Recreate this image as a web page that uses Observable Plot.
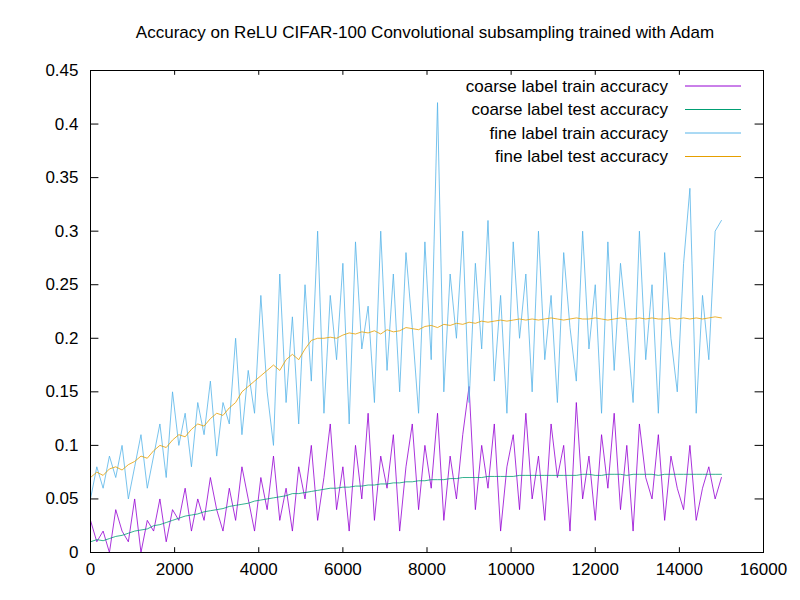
<!DOCTYPE html>
<html><head><meta charset="utf-8">
<script src="https://cdn.jsdelivr.net/npm/d3@7"></script>
<script src="https://cdn.jsdelivr.net/npm/@observablehq/plot@0.6"></script>
<style>
body{margin:0;background:#fff;font-family:"Liberation Sans",Arial,sans-serif;}
#title{height:50px;line-height:66px;text-align:center;font-size:17px;padding-left:50px;}
</style></head><body>
<div id="title">Accuracy on ReLU CIFAR-100 Convolutional subsampling trained with Adam</div>
<div id="chart"></div>
<script>
// values sampled every 150 iterations, 0..15000
const fineTest = [0.07,0.075,0.072,0.078,0.08,0.077,0.082,0.085,0.09,0.088,0.095,0.1,0.098,0.105,0.11,0.108,0.115,0.12,0.118,0.125,0.13,0.128,0.135,0.14,0.15,0.155,0.16,0.165,0.17,0.175,0.17,0.18,0.185,0.18,0.19,0.198,0.2,0.2,0.201,0.2,0.203,0.205,0.204,0.206,0.205,0.207,0.204,0.208,0.206,0.207,0.21,0.209,0.208,0.211,0.212,0.21,0.213,0.212,0.214,0.213,0.215,0.214,0.216,0.215,0.216,0.217,0.216,0.217,0.218,0.217,0.218,0.217,0.218,0.219,0.218,0.217,0.218,0.219,0.218,0.218,0.219,0.218,0.217,0.218,0.219,0.218,0.218,0.219,0.218,0.219,0.218,0.218,0.219,0.218,0.219,0.218,0.219,0.218,0.219,0.22,0.219];
const coarseTest = [0.01,0.012,0.011,0.013,0.015,0.016,0.018,0.02,0.021,0.022,0.025,0.026,0.028,0.03,0.032,0.034,0.035,0.036,0.038,0.039,0.04,0.041,0.043,0.044,0.045,0.046,0.048,0.049,0.05,0.051,0.052,0.053,0.055,0.055,0.056,0.057,0.058,0.059,0.06,0.06,0.061,0.061,0.062,0.062,0.063,0.063,0.064,0.064,0.065,0.065,0.066,0.066,0.067,0.067,0.068,0.068,0.068,0.069,0.069,0.07,0.07,0.07,0.07,0.071,0.071,0.071,0.071,0.071,0.072,0.072,0.072,0.072,0.072,0.072,0.072,0.072,0.072,0.072,0.073,0.073,0.072,0.072,0.073,0.073,0.073,0.072,0.073,0.073,0.073,0.073,0.072,0.073,0.073,0.073,0.073,0.073,0.073,0.073,0.073,0.073,0.073];
const fineTrain = [0.05,0.08,0.06,0.09,0.07,0.1,0.05,0.08,0.11,0.06,0.09,0.12,0.07,0.15,0.1,0.13,0.08,0.14,0.11,0.16,0.09,0.14,0.12,0.2,0.11,0.17,0.13,0.24,0.15,0.1,0.26,0.14,0.22,0.12,0.25,0.16,0.3,0.13,0.24,0.18,0.27,0.12,0.29,0.19,0.23,0.14,0.3,0.17,0.26,0.15,0.28,0.21,0.13,0.29,0.18,0.42,0.15,0.26,0.2,0.3,0.14,0.27,0.19,0.31,0.16,0.24,0.13,0.29,0.2,0.26,0.15,0.3,0.18,0.24,0.14,0.28,0.21,0.16,0.3,0.19,0.25,0.13,0.29,0.17,0.27,0.21,0.14,0.3,0.18,0.25,0.13,0.28,0.2,0.15,0.27,0.34,0.13,0.24,0.18,0.3,0.31];
const coarseTrain = [0.03,0.01,0.02,0.0,0.04,0.02,0.01,0.05,0.0,0.03,0.02,0.05,0.01,0.04,0.03,0.06,0.02,0.05,0.03,0.07,0.04,0.02,0.06,0.03,0.08,0.05,0.02,0.07,0.04,0.09,0.03,0.06,0.02,0.08,0.05,0.1,0.03,0.07,0.12,0.04,0.08,0.02,0.1,0.05,0.13,0.03,0.09,0.06,0.11,0.02,0.08,0.12,0.04,0.1,0.06,0.13,0.03,0.09,0.05,0.11,0.155,0.04,0.1,0.06,0.12,0.02,0.08,0.11,0.04,0.13,0.05,0.09,0.03,0.12,0.07,0.1,0.02,0.14,0.05,0.09,0.03,0.11,0.06,0.13,0.04,0.1,0.02,0.12,0.07,0.05,0.11,0.03,0.09,0.06,0.04,0.1,0.03,0.06,0.08,0.05,0.07];
const xTicks = d3.range(0, 16001, 2000);
const yTicks = d3.range(0, 0.451, 0.05);
const series = [
  {name: "coarse label train accuracy", color: "#9400d3", values: coarseTrain},
  {name: "coarse label test accuracy", color: "#009e73", values: coarseTest},
  {name: "fine label train accuracy", color: "#56b4e9", values: fineTrain},
  {name: "fine label test accuracy", color: "#e69f00", values: fineTest}
];
const rows = series.flatMap(s => s.values.map((v, i) => ({x: i * 15000 / (s.values.length - 1), y: v, name: s.name})));
const yFmt = d => d3.format("~g")(+d.toFixed(2));

const chart = Plot.plot({
  width: 800, height: 550,
  marginLeft: 90, marginRight: 37, marginTop: 20, marginBottom: 48,
  style: {fontFamily: "Liberation Sans, Arial, sans-serif", fontSize: "17px", color: "#000"},
  x: {domain: [0, 16000], label: null},
  y: {domain: [0, 0.45], label: null},
  color: {domain: series.map(s => s.name), range: series.map(s => s.color)},
  marks: [
    Plot.axisX({tickSize: 0, tickPadding: 10, ticks: xTicks, tickFormat: d => String(d), fontSize: 17}),
    Plot.axisY({tickSize: 0, tickPadding: 12, ticks: yTicks, tickFormat: yFmt, fontSize: 17}),
    Plot.ruleY(yTicks, {x1: 0, x2: 200, stroke: "#000"}),
    Plot.ruleY(yTicks, {x1: 15800, x2: 16000, stroke: "#000"}),
    Plot.ruleX(xTicks, {y1: 0, y2: 0.0045, stroke: "#000"}),
    Plot.ruleX(xTicks, {y1: 0.4455, y2: 0.45, stroke: "#000"}),
    Plot.line(rows, {x: "x", y: "y", z: "name", stroke: "name", strokeWidth: 0.8}),
    Plot.frame({stroke: "#000"})
  ]
});
document.getElementById("chart").append(chart);

// legend, top right inside the frame
const svg = d3.select(chart);
series.forEach((s, i) => {
  const y = 36 + i * 23.5;
  svg.append("text").attr("x", 668).attr("y", y).attr("dy", "0.35em")
    .attr("text-anchor", "end").attr("font-size", 17).text(s.name);
  svg.append("line").attr("x1", 685).attr("x2", 741).attr("y1", y).attr("y2", y)
    .attr("stroke", s.color).attr("stroke-width", 1);
});
</script></body></html>
